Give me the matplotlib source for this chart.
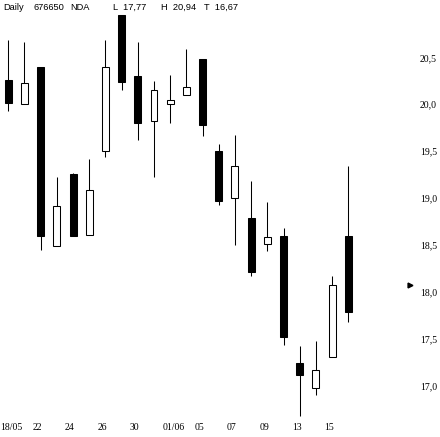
import matplotlib
matplotlib.use("Agg")
import matplotlib.pyplot as plt
import matplotlib.transforms as mtransforms

# daily bars, 18/05 .. 16/06
dates = ["18/05", "19/05", "22/05", "23/05", "24/05", "25/05", "26/05", "29/05",
         "30/05", "31/05", "01/06", "02/06", "05/06", "06/06", "07/06", "08/06",
         "09/06", "12/06", "13/06", "14/06", "15/06", "16/06"]
opens = [20.25, 19.99, 20.39, 18.48, 19.25, 18.60, 19.49, 20.94, 20.29, 19.81, 19.99,
         20.09, 20.47, 19.49, 18.99, 18.78, 18.50, 18.59, 17.23, 16.97, 17.30, 18.59]
highs = [20.67, 20.65, 20.39, 19.21, 19.26, 19.41, 20.67, 20.94, 20.65, 20.24, 20.30,
         20.58, 20.47, 19.57, 19.66, 19.17, 18.95, 18.67, 17.41, 17.47, 18.16, 19.33]
lows = [19.92, 19.99, 18.44, 18.48, 18.59, 18.60, 19.43, 20.14, 19.61, 19.21, 19.79,
        20.09, 19.65, 18.91, 18.49, 18.16, 18.43, 17.42, 16.67, 16.89, 17.30, 17.67]
closes = [20.00, 20.22, 18.59, 18.90, 18.59, 19.07, 20.39, 20.23, 19.79, 20.14, 20.03,
          20.17, 19.77, 18.96, 19.33, 18.20, 18.57, 17.51, 17.10, 17.16, 18.06, 17.77]

xtick_idx = [0, 2, 4, 6, 8, 10, 12, 14, 16, 18, 20]
xtick_labels = ["18/05", "22", "24", "26", "30", "01/06", "05", "07", "09", "13", "15"]
ytick_vals = [17.0, 17.5, 18.0, 18.5, 19.0, 19.5, 20.0, 20.5]
ytick_labels = ["17,0", "17,5", "18,0", "18,5", "19,0", "19,5", "20,0", "20,5"]
marker_level = 18.06

header = [("Daily", 3), ("676650", 34), ("NDA", 70), ("L  17,77", 113),
          ("H  20,94", 161), ("T  16,67", 204)]

W, H = 440, 437
fig = plt.figure(figsize=(W / 100, H / 100), dpi=100)
ax = fig.add_axes([0, 0, 1, 1])
ax.set_axis_off()

# pixel mapping: x = 8.3 + 16.19*i, y = 15 + (20.94 - v)*93.84
ax.set_xlim(-8.3 / 16.19, (W - 8.3) / 16.19)
ax.set_ylim(20.94 - (H - 15) / 93.84, 20.94 + 15 / 93.84)

lw = 0.75
n = len(dates)
xs = list(range(n))
ax.vlines(xs, lows, highs, color="black", linewidth=lw, zorder=1)
for i in xs:
    o, c = opens[i], closes[i]
    fc = "black" if c < o else "white"
    ax.bar(i, abs(c - o), bottom=min(o, c), width=0.43, facecolor=fc,
           edgecolor="black", linewidth=lw, zorder=2)

# date labels, left aligned a bit before each bar
off = mtransforms.ScaledTranslation(-8 / 100, 0, fig.dpi_scale_trans)
xtr = mtransforms.blended_transform_factory(ax.transData, fig.transFigure) + off
for i, lab in zip(xtick_idx, xtick_labels):
    ax.text(i, 1 - 428 / H, lab, transform=xtr,
            ha="left", va="center", fontsize=7, family="Liberation Serif")

# price scale on the right
yoff = mtransforms.ScaledTranslation(0, -2 / 100, fig.dpi_scale_trans)
ytr = mtransforms.blended_transform_factory(fig.transFigure, ax.transData)
for v, lab in zip(ytick_vals, ytick_labels):
    ax.text(420 / W, v, lab, transform=ytr + yoff,
            ha="left", va="center", fontsize=7, family="Liberation Serif")

ax.plot([410 / W], [marker_level], marker=">", markersize=3.5, color="black",
        transform=ytr, clip_on=False)

for txt, px in header:
    fig.text(px / W, 1 - 7 / H, txt, ha="left", va="center", fontsize=6.7, family="Liberation Sans")

fig.savefig("out.png", dpi=100)
